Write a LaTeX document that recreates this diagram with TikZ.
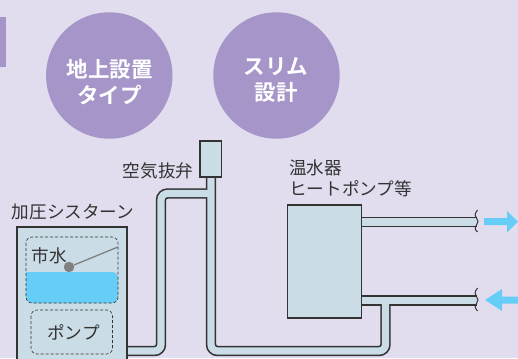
\documentclass[tikz,border=0pt]{standalone}
\usepackage{fontspec}
\setmainfont{Noto Sans CJK JP}
\newfontfamily\jpbold{Noto Sans CJK JP Bold}
\definecolor{bgc}{HTML}{E1DDEE}
\definecolor{purp}{HTML}{A595C8}
\definecolor{pipec}{HTML}{CADCE6}
\definecolor{waterc}{HTML}{66CDF7}
\definecolor{inkc}{HTML}{333333}
\definecolor{floatc}{HTML}{808080}
\tikzset{
  x=1pt,y=-1pt,
  lbl/.style={text=inkc,font=\fontsize{17.6}{20}\selectfont,inner sep=0pt},
  badge/.style={circle,fill=purp,minimum size=126.4pt,inner sep=0pt},
  badgetext/.style={text=white,align=center,inner sep=0pt,font=\jpbold\fontsize{21.5}{26}\selectfont},
  unitbox/.style={draw=inkc,line width=1.1pt,fill=pipec,inner sep=0pt},
  pipeout/.style={draw=inkc,line width=10.4pt,rounded corners=6.5pt},
  pipein/.style={draw=pipec,line width=7.2pt,rounded corners=6.5pt},
  dashbox/.style={draw=inkc,line width=.6pt,dash pattern=on 3pt off 2pt,rounded corners=6pt},
  flow/.style={fill=waterc,draw=none},
  brk/.style={draw=inkc,line width=1pt},
}
\begin{document}
\begin{tikzpicture}
\clip (0,0) rectangle (518,358);
\useasboundingbox (0,0) rectangle (518,358);
\fill[bgc] (0,0) rectangle (518,358);
\fill[purp] (0,17) rectangle (6,67);
\node[badge] (b1) at (109.3,75.5) {};
\node[badge] (b2) at (276.5,75.5) {};
\node[badgetext] (bt1) at (109.5,82) {地上設置\\タイプ};
\node[badgetext] (bt2) at (276,80) {スリム\\設計};
% anchors of the pipe run
\coordinate (p1) at (127,351);
\coordinate (p2) at (161,351);
\coordinate (p3) at (161,193.5);
\coordinate (p4) at (211,193.5);
\coordinate (p5) at (211,351);
\coordinate (p6) at (385.5,351);
\coordinate (p7) at (385.5,300.5);
\coordinate (v0) at (211,170);
\coordinate (h1) at (361,222);
\coordinate (e1) at (477,222);
\coordinate (h2) at (361,300.5);
\coordinate (e2) at (477,300.5);
\foreach \s in {pipeout,pipein}{
  \draw[\s] (p1) -- (p2) -- (p3) -- (p4);
  \draw[\s] (v0) -- (p5) -- (p6) -- (p7);
  \draw[\s] (h1) -- (e1);
  \draw[\s] (h2) -- (e2);
}
\node[unitbox,minimum width=21.5pt,minimum height=36pt] (valve) at (210.7,159) {};
\node[unitbox,minimum width=74.5pt,minimum height=113pt] (heater) at (324.3,261.5) {};
\node[unitbox,minimum width=110pt,minimum height=140pt] (tank) at (72,297) {};
% break marks
\fill[bgc] (477.5,205) rectangle (483,238);
\fill[bgc] (477.5,285) rectangle (483,316);
\draw[brk] (477.5,210) .. controls (474,214) and (475,217) .. (476.5,218) .. controls (478.5,220) and (478.5,223) .. (476.5,225) .. controls (475,227) and (474,229) .. (477.5,232);
\draw[brk] (477.5,288) .. controls (474,292) and (475,295) .. (476.5,296.5) .. controls (478.5,298.5) and (478.5,301.5) .. (476.5,303.5) .. controls (475,305) and (474,307) .. (477.5,311);
% arrows
\fill[flow] (484,218.2) -- (507,218.2) -- (507,211) -- (518,221.7) -- (507,232.5) -- (507,225.2) -- (484,225.2) -- cycle;
\fill[flow] (485,300) -- (502,289) -- (502,296.5) -- (518,296.5) -- (518,303.5) -- (502,303.5) -- (502,311) -- cycle;
% tank interior
\fill[waterc,rounded corners=6pt] (26,272) -- (26,303) -- (118,303) -- (118,272) [sharp corners] -- cycle;
\draw[dashbox] (26,237) rectangle (118,303);
\draw[dashbox] (31,310) rectangle (112.5,354);
\node[circle,fill=floatc,minimum size=10.5pt,inner sep=0pt] (ball) at (69,267) {};
\coordinate (armend) at (118,247);
\draw[floatc,line width=1.3pt] (ball) -- (armend);
% labels
\node[lbl] (t1) at (73,212) {加圧シスターン};
\node[lbl] (t2) at (49,256) {市水};
\node[lbl] (t3) at (73.5,332) {ポンプ};
\node[lbl] (t4) at (158,171) {空気抜弁};
\node[lbl,anchor=west] (t5) at (289,168) {温水器};
\node[lbl,anchor=west] (t6) at (289,189) {ヒートポンプ等};
\end{tikzpicture}
\end{document}
